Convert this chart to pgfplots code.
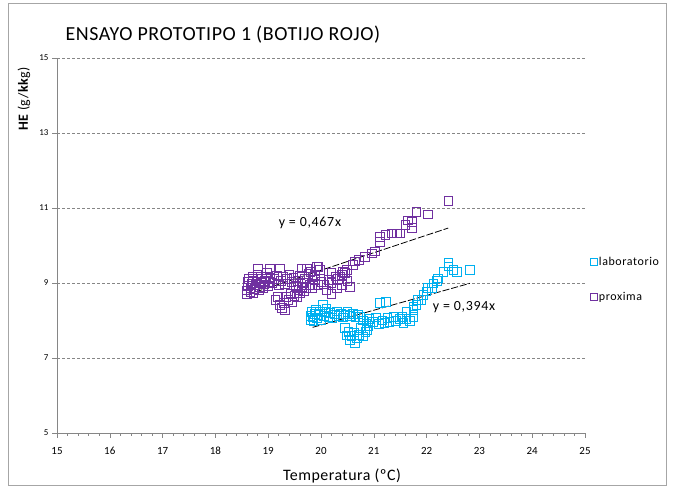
\documentclass[border=0pt]{standalone}
\usepackage{fontspec}
\setmainfont{Carlito}
\usepackage{pgfplots}
\pgfplotsset{compat=1.18}
\definecolor{lab}{HTML}{00B0F0}
\definecolor{prox}{HTML}{7030A0}
\definecolor{gridgray}{HTML}{868686}
\pgfplotsset{sqlegend/.style={legend image code/.code={\draw[##1, mark size=3.5bp] plot coordinates {(0.12cm,0cm)};}}}
\begin{document}
\begin{tikzpicture}
\useasboundingbox (0,0) rectangle (674bp,486bp);
\draw[gray!70, line width=0.8bp] (8bp,1bp) rectangle (666bp,483bp);
\node[anchor=west, font=\fontsize{20}{22}\selectfont\addfontfeatures{LetterSpace=3}] at (62bp,451bp) {ENSAYO PROTOTIPO 1 (BOTIJO ROJO)};
\node[rotate=90, font=\fontsize{14}{16}\selectfont\addfontfeatures{LetterSpace=3}] at (24bp,387bp) {\textbf{HE} (g/\textbf{kk}g)};
\node[font=\fontsize{16}{18}\selectfont\addfontfeatures{LetterSpace=3}] at (342bp,10bp) {Temperatura (ºC)};
\begin{axis}[
  at={(57bp,53bp)}, anchor=south west,
  scale only axis, width=528bp, height=375bp,
  xmin=15, xmax=25, ymin=5, ymax=15,
  xtick={15,16,...,25}, ytick={5,7,...,15},
  minor x tick num=4,
  axis x line*=bottom, axis y line*=left,
  axis line style={gridgray, line width=0.6bp, -},
  ymajorgrids,
  grid style={gridgray, line width=0.6bp, dash pattern=on 3bp off 2bp},
  tick style={gridgray, line width=0.6bp},
  tick align=outside,
  major tick length=5bp, minor tick length=3bp,
  xticklabel style={font=\fontsize{11}{12}\selectfont, yshift=-5bp, text height=1.6ex, text depth=0.2ex},
  yticklabel style={font=\fontsize{9}{10}\selectfont},
  /pgf/number format/assume math mode=true,
  legend style={draw=none, fill=none, at={(axis description cs:1.009,0.475)}, anchor=north west,
    font=\fontsize{12}{13}\selectfont\addfontfeatures{LetterSpace=5}, row sep=21bp, inner sep=0pt,
    nodes={inner xsep=2bp}},
  legend cell align=left,
  sqlegend,
  clip=false,
]
\addplot[only marks, mark=square, mark size=4.3bp, mark options={draw=lab, line width=0.9bp}]
table {
x y
19.80 8.02
19.80 8.12
19.82 8.22
19.84 8.08
19.86 7.98
19.88 8.18
19.90 8.28
19.92 8.06
19.95 8.14
19.98 8.24
20.00 8.02
20.04 8.41
20.06 8.12
20.08 8.22
20.10 8.30
20.14 8.10
20.18 8.20
20.22 8.06
20.26 8.16
20.30 8.24
20.34 8.12
20.38 8.18
20.42 8.08
20.46 8.16
20.50 8.22
20.55 8.12
20.60 8.18
20.65 8.10
20.70 8.16
20.74 8.10
20.45 7.80
20.48 7.60
20.52 7.70
20.55 7.48
20.58 7.58
20.62 7.68
20.64 7.39
20.68 7.52
20.72 7.62
20.76 7.80
20.80 7.57
20.84 7.70
20.87 7.75
20.90 7.85
20.80 8.00
20.86 7.92
20.92 8.04
20.98 7.96
21.04 8.08
21.10 7.90
21.12 8.46
21.16 8.00
21.20 7.94
21.23 8.50
21.26 8.06
21.30 7.96
21.37 8.10
21.42 7.98
21.50 8.04
21.56 7.94
21.62 8.04
21.68 7.98
21.75 8.10
21.54 8.10
21.62 8.23
21.75 8.28
21.75 8.37
21.81 8.41
21.84 8.55
21.90 8.55
21.94 8.68
22.00 8.77
22.03 8.86
22.10 8.86
22.13 8.99
22.20 9.06
22.22 9.12
22.32 9.30
22.41 9.44
22.41 9.53
22.51 9.35
22.57 9.30
22.82 9.35
};
\addlegendentry{laboratorio}
\addplot[only marks, mark=square, mark size=4.3bp, mark options={draw=prox, line width=0.9bp}]
table {
x y
18.60 8.70
18.60 8.80
18.62 8.92
18.62 9.02
18.64 9.10
18.66 8.76
18.66 8.86
18.68 8.98
18.70 9.06
18.70 9.16
18.72 8.72
18.74 8.84
18.76 8.94
18.78 9.04
18.80 9.12
18.80 9.22
18.82 8.80
18.84 8.90
18.86 9.00
18.88 9.10
18.90 8.86
18.92 8.96
18.94 9.06
18.96 9.16
18.98 9.26
19.00 8.92
19.02 9.02
19.04 9.12
18.81 9.39
19.03 9.37
19.08 9.00
19.12 9.10
19.16 9.20
19.20 8.94
19.22 9.39
19.24 9.06
19.28 9.16
19.32 8.98
19.36 9.10
19.40 9.22
19.44 9.02
19.48 9.14
19.52 8.92
19.56 9.06
19.60 9.20
19.63 9.39
19.66 9.00
19.70 9.12
19.73 9.39
19.76 9.24
19.80 9.30
19.84 9.16
19.88 9.22
19.95 9.43
19.14 8.55
19.18 8.62
19.22 8.41
19.26 8.33
19.30 8.46
19.32 8.28
19.34 8.62
19.38 8.55
19.42 8.72
19.46 8.48
19.50 8.66
19.54 8.63
19.57 8.81
19.60 8.72
19.64 8.90
19.68 8.78
19.72 8.86
19.79 8.95
19.84 8.86
19.89 9.08
19.94 8.94
20.01 9.03
20.06 8.96
20.14 9.08
20.20 9.00
20.27 9.17
20.32 9.10
20.36 9.17
20.40 9.22
20.45 9.26
20.10 8.80
20.20 8.70
20.30 8.85
20.40 8.95
20.50 9.05
20.55 8.90
20.20 9.26
19.98 9.35
19.92 9.42
20.42 9.30
20.49 9.35
20.61 9.48
20.64 9.57
20.72 9.62
20.83 9.70
20.96 9.79
21.02 9.84
21.12 10.10
21.12 10.23
21.22 10.28
21.34 10.32
21.44 10.32
21.50 10.32
21.60 10.55
21.65 10.67
21.72 10.63
21.72 10.46
21.81 10.89
22.03 10.83
22.41 11.19
};
\addlegendentry{proxima}
\addplot[forget plot, black, line width=0.8bp, dash pattern=on 7bp off 2bp] coordinates {(18.60,8.686) (22.41,10.466)};
\addplot[forget plot, black, line width=0.8bp, dash pattern=on 7bp off 2bp] coordinates {(19.84,7.817) (22.82,8.991)};
\node[font=\fontsize{14}{15}\selectfont\addfontfeatures{LetterSpace=5}] at (axis cs:19.79,10.6) {y = 0,467x};
\node[font=\fontsize{14}{15}\selectfont\addfontfeatures{LetterSpace=5}] at (axis cs:22.71,8.36) {y = 0,394x};
\end{axis}
\end{tikzpicture}
\end{document}
